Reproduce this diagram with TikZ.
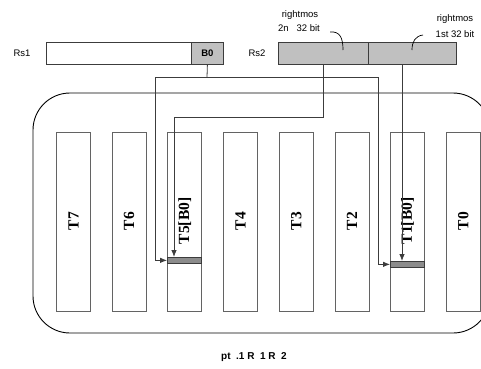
\documentclass[tikz,border=0pt]{standalone}
\usepackage{fontspec}
\setmainfont{Liberation Sans}
\newfontfamily\serifb{Liberation Serif}
\usetikzlibrary{arrows.meta,calc}
\definecolor{regfill}{HTML}{C0C0C0}
\definecolor{barfill}{HTML}{8C8C8C}
\definecolor{edge}{HTML}{3C3C3C}
\tikzset{
  reg/.style={draw=edge,line width=0.8pt,fill=regfill},
  regw/.style={draw=edge,line width=0.8pt,fill=white},
  col/.style={draw=edge!80,line width=0.9pt,fill=white,minimum width=34pt,minimum height=179pt,inner sep=0pt},
  collab/.style={font=\serifb\bfseries\fontsize{15.5}{15.5}\selectfont,rotate=90},
  bar/.style={draw=edge,line width=0.7pt,fill=barfill},
  wire/.style={draw=edge,line width=0.8pt},
  arr/.style={wire,-{Latex[length=7pt,width=5.5pt]}},
  lab/.style={font=\fontsize{9.5}{10}\selectfont,inner sep=0pt},
}
\begin{document}
\begin{tikzpicture}[x=1pt,y=-1pt]
\useasboundingbox (0,0) rectangle (481,368);
\clip (0,0) rectangle (481,368);
% outer rounded box
\draw[line width=0.9pt,rounded corners=37pt] (33,93) rectangle (490,333);
% Rs1
\node[lab] (rs1l) at (22,53) {Rs1};
\draw[regw] (46,42) rectangle (191,64);
\node[reg,minimum width=32pt,minimum height=22pt,inner sep=0pt,anchor=north west,font=\fontsize{9.5}{10}\selectfont\bfseries] (b0) at (191,42) {B0};
% Rs2
\node[lab] (rs2l) at (257,53) {Rs2};
\node[reg,minimum width=90pt,minimum height=22pt,inner sep=0pt,anchor=north west] (rs2a) at (278,42) {};
\node[reg,minimum width=88pt,minimum height=22pt,inner sep=0pt,anchor=north west] (rs2b) at (368,42) {};
% annotations
\node[lab] (n2a) at (300,15) {rightmos};
\node[lab] (n2b) at (299,28) {2n\ \ \ 32 bit};
\node[lab] (n1a) at (455,19) {rightmos};
\node[lab] (n1b) at (455,34) {1st 32 bit};
\draw[line width=0.7pt] (330,32) .. controls (340,31) and (343,38) .. (343,50);
\draw[line width=0.7pt] (423,35) .. controls (415,36) and (412,42) .. (412,50);
% columns
\foreach \i/\t in {7/T7,6/T6,5/T5[B0],4/T4,3/T3,2/T2,1/T1[B0],0/T0}{
  \node[col,anchor=north west] (c\i) at ({56+(7-\i)*55.7},132) {};
  \node[collab] (t\i) at ($(c\i.center)+(0,-1)$) {\t};
}
% bars
\node[bar,minimum width=34pt,minimum height=6pt,inner sep=0pt,anchor=north west] (bar5) at (167,257) {};
\node[bar,minimum width=34pt,minimum height=6pt,inner sep=0pt,anchor=north west] (bar1) at (390,261) {};
% connectors
\coordinate (j1) at (207,77);
\coordinate (j2) at (155,77);
\coordinate (j3) at (378,77);
\draw[wire] (b0.south) -- (j1);
\draw[arr] (j1) -- (j2) |- (bar5.west);
\draw[arr] (j1) -- (j3) |- (bar1.west);
\coordinate (k0) at (323,64);
\coordinate (k1) at (323,117);
\coordinate (k2) at (174,117);
\coordinate (k3) at (174,257);
\draw[arr] (k0) -- (k1) -- (k2) -- (k3);
\coordinate (m0) at (402,64);
\coordinate (m1) at (402,261);
\draw[arr] (m0) -- (m1);
% caption
\node[font=\fontsize{10}{12}\selectfont\bfseries] (cap) at (254,357) {pt\ \ .1 R\ \ 1 R\ \ 2};
\end{tikzpicture}
\end{document}
